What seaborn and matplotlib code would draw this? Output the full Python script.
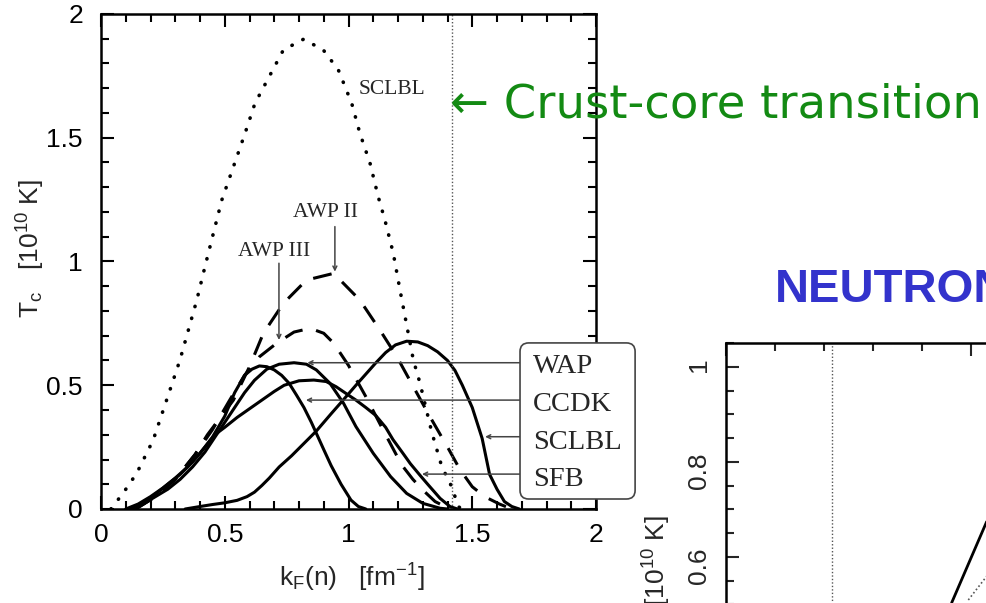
import numpy as np
import pandas as pd
import seaborn as sns
import matplotlib.pyplot as plt
from matplotlib.patches import FancyBboxPatch
from matplotlib.ticker import MultipleLocator

# Data -------------------------------------------------------------------------
# neutron 1S0 gap curves, Tc [1e10 K] vs kF(n) [fm^-1]
kf_sclbl_dot = [0.04, 0.063, 0.09, 0.144, 0.211, 0.265, 0.319, 0.387, 0.42, 0.454, 0.488,
                0.535, 0.582, 0.622, 0.669, 0.737, 0.818, 0.898, 0.959, 1.013, 1.046,
                1.087, 1.12, 1.147, 1.181, 1.208, 1.262, 1.289, 1.336, 1.377, 1.417, 1.444, 1.46]
tc_sclbl_dot = [0.0, 0.03, 0.065, 0.144, 0.279, 0.44, 0.602, 0.844, 0.979, 1.114, 1.248,
                1.383, 1.518, 1.639, 1.727, 1.855, 1.898, 1.855, 1.774, 1.639, 1.518,
                1.397, 1.262, 1.168, 1.033, 0.885, 0.602, 0.508, 0.312, 0.171, 0.09, 0.009, 0.0]

kf_awp2 = [0.14, 0.22, 0.30, 0.38, 0.43, 0.49, 0.535, 0.60, 0.656, 0.737, 0.83, 0.94,
           1.046, 1.127, 1.195, 1.262, 1.329, 1.403, 1.45, 1.50, 1.55, 1.61, 1.66]
tc_awp2 = [0.0, 0.05, 0.12, 0.22, 0.30, 0.38, 0.44, 0.575, 0.71, 0.831, 0.925, 0.952,
           0.844, 0.723, 0.616, 0.494, 0.373, 0.245, 0.16, 0.09, 0.05, 0.02, 0.0]

kf_awp3 = [0.14, 0.22, 0.30, 0.38, 0.45, 0.52, 0.58, 0.64, 0.71, 0.78, 0.845, 0.90,
           0.94, 1.00, 1.07, 1.14, 1.215, 1.26, 1.30, 1.35, 1.40, 1.42]
tc_awp3 = [0.0, 0.05, 0.12, 0.22, 0.32, 0.44, 0.54, 0.615, 0.67, 0.715, 0.73, 0.71,
           0.67, 0.58, 0.454, 0.319, 0.178, 0.12, 0.077, 0.03, 0.005, 0.0]

kf_wap = [0.12, 0.17, 0.22, 0.27, 0.32, 0.37, 0.42, 0.46, 0.50, 0.54, 0.58, 0.62, 0.67,
          0.72, 0.78, 0.83, 0.87, 0.925, 0.98, 1.03, 1.10, 1.17, 1.235, 1.30, 1.37, 1.40]
tc_wap = [0.0, 0.02, 0.05, 0.08, 0.12, 0.17, 0.23, 0.29, 0.35, 0.41, 0.47, 0.52, 0.565,
          0.585, 0.591, 0.585, 0.562, 0.508, 0.427, 0.333, 0.225, 0.131, 0.063, 0.023, 0.003, 0.0]

kf_ccdk = [0.10, 0.15, 0.20, 0.25, 0.30, 0.35, 0.40, 0.45, 0.50, 0.54, 0.58, 0.61, 0.64,
           0.67, 0.70, 0.73, 0.76, 0.79, 0.82, 0.85, 0.87, 0.90, 0.93, 0.97, 1.01, 1.04, 1.07]
tc_ccdk = [0.0, 0.02, 0.05, 0.085, 0.125, 0.17, 0.225, 0.29, 0.375, 0.47, 0.54, 0.565, 0.578,
           0.575, 0.562, 0.54, 0.508, 0.46, 0.41, 0.35, 0.306, 0.24, 0.175, 0.10, 0.036, 0.01, 0.0]

kf_sfb = [0.12, 0.17, 0.22, 0.27, 0.32, 0.37, 0.42, 0.46, 0.50, 0.55, 0.60, 0.65, 0.70, 0.74,
          0.80, 0.86, 0.91, 0.95, 1.00, 1.03, 1.07, 1.11, 1.15, 1.18, 1.22, 1.25, 1.29, 1.32,
          1.37, 1.41, 1.44]
tc_sfb = [0.0, 0.025, 0.06, 0.10, 0.14, 0.19, 0.25, 0.30, 0.33, 0.37, 0.405, 0.44, 0.475, 0.50,
          0.518, 0.521, 0.515, 0.494, 0.46, 0.44, 0.41, 0.378, 0.33, 0.28, 0.225, 0.183, 0.135,
          0.10, 0.043, 0.01, 0.0]

kf_sclbl = [0.34, 0.40, 0.45, 0.50, 0.55, 0.59, 0.62, 0.65, 0.68, 0.72, 0.77, 0.82, 0.87, 0.93,
            0.98, 1.03, 1.07, 1.11, 1.15, 1.19, 1.235, 1.28, 1.32, 1.36, 1.40, 1.43, 1.46,
            1.50, 1.54, 1.57, 1.60, 1.63, 1.66, 1.69]
tc_sclbl = [0.0, 0.01, 0.018, 0.025, 0.035, 0.05, 0.068, 0.095, 0.125, 0.17, 0.215, 0.265,
            0.315, 0.385, 0.442, 0.50, 0.545, 0.59, 0.632, 0.663, 0.678, 0.675, 0.66, 0.635,
            0.60, 0.56, 0.50, 0.41, 0.285, 0.14, 0.08, 0.03, 0.01, 0.0]

kf_crust_core = 1.417

# legend box labels and where their arrows point (kF, Tc)
box_labels = ["WAP", "CCDK", "SCLBL", "SFB"]
arrow_tips_kf = [0.834, 0.828, 1.552, 1.297]
arrow_tips_tc = [0.591, 0.44, 0.292, 0.141]

ticks = [0, 0.5, 1, 1.5, 2]
tick_labels = ["0", "0.5", "1", "1.5", "2"]

# second (cut off) panel
x2_solid = [0.921, 1.064]
t2_solid = [0.503, 0.674]
x2_dot = [0.989, 1.064]
t2_dot = [0.509, 0.559]
x2_transition = 0.433
y2_ticks = [0.6, 0.8, 1]
y2_tick_labels = ["0.6", "0.8", "1"]

# Style ------------------------------------------------------------------------
sns.set_style("ticks")
plt.rcParams['font.family'] = ['Liberation Sans', 'DejaVu Sans']
plt.rcParams['mathtext.default'] = 'regular'

fig = plt.figure(figsize=(9.86, 6.03), dpi=100)
ax = fig.add_axes([101/986, 94/603, 495/986, 495/603])

# Curves -----------------------------------------------------------------------
sns.lineplot(x=kf_sclbl_dot, y=tc_sclbl_dot, ax=ax, color="black", lw=2.6,
             linestyle=(0, (0.1, 3.3)), dash_capstyle="round", errorbar=None)
for kf, tc in [(kf_awp2, tc_awp2), (kf_awp3, tc_awp3)]:
    sns.lineplot(x=kf, y=tc, ax=ax, color="black", lw=2.2,
                 linestyle=(0, (6.2, 4.6)), errorbar=None)
for kf, tc in [(kf_wap, tc_wap), (kf_ccdk, tc_ccdk), (kf_sfb, tc_sfb), (kf_sclbl, tc_sclbl)]:
    sns.lineplot(x=kf, y=tc, ax=ax, color="black", lw=2.2, errorbar=None)

ax.axvline(kf_crust_core, color="#555555", lw=1, linestyle=(0, (1, 1.5)))

ax.set_xlim(0, 2)
ax.set_ylim(0, 2)
ax.set_xticks(ticks, labels=tick_labels)
ax.set_yticks(ticks, labels=tick_labels)
ax.xaxis.set_minor_locator(MultipleLocator(0.1))
ax.yaxis.set_minor_locator(MultipleLocator(0.1))
ax.tick_params(which="both", direction="in", top=True, right=True, colors="black")
ax.tick_params(which="major", length=9.5, width=1.5, labelsize=19)
ax.tick_params(which="minor", length=5.5, width=1.5)
ax.tick_params(axis="x", pad=10)
ax.tick_params(axis="y", pad=13)
for s in ax.spines.values():
    s.set_linewidth(1.8)
    s.set_color("black")

ax.set_xlabel(r"k$_F$(n)   [fm$^{-1}$]", fontsize=19)
ax.set_ylabel(r"T$_c$   [10$^{10}$ K]", fontsize=19)
ax.xaxis.set_label_coords(0.507, -0.107)
ax.yaxis.set_label_coords(-0.109, 0.527)

# Labels and arrows ------------------------------------------------------------
serif = ["Liberation Serif", "DejaVu Serif"]
ax.text(1.042, 1.693, "SCLBL", family=serif, fontsize=15.5, va="center", ha="left")
ax.text(0.908, 1.196, "AWP II", family=serif, fontsize=15.5, va="center", ha="center")
ax.text(0.699, 1.04, "AWP III", family=serif, fontsize=15.5, va="center", ha="center")
arr = dict(arrowstyle="->", color="#444444", lw=1.1, shrinkA=0, shrinkB=0, mutation_scale=7)
ax.annotate("", xy=(0.945, 0.959), xytext=(0.945, 1.141), arrowprops=arr)
ax.annotate("", xy=(0.719, 0.683), xytext=(0.719, 0.993), arrowprops=arr)

box = FancyBboxPatch((1.693, 0.0404), 0.465, 0.6306, boxstyle="round,pad=0,rounding_size=0.035",
                     facecolor="white", edgecolor="#444444", lw=1.2, clip_on=False, zorder=5)
ax.add_patch(box)
for i, lab in enumerate(box_labels):
    ax.text(1.745, 0.574 - i * 0.152, lab, family=serif, fontsize=20.5,
            va="center", ha="left", zorder=6, clip_on=False)
    ax.annotate("", xy=(arrow_tips_kf[i], arrow_tips_tc[i]), xytext=(1.693, arrow_tips_tc[i]),
                arrowprops=arr)

# Slide texts ------------------------------------------------------------------
fig.text(450/986, (603-118)/603, "\u2190 Crust-core transition", color="#138a13",
         fontsize=33.5, family=["DejaVu Sans"], ha="left", va="baseline", zorder=10)
fig.text(775/986, (603-290)/603, "NEUTRON", color="#3333cc", fontsize=34,
         fontweight="bold", ha="left", va="center")

# Second panel (cut off) -------------------------------------------------------
ax2 = fig.add_axes([726/986, (603-343-498.75)/603, 490/986, 498.75/603])
sns.lineplot(x=x2_solid, y=t2_solid, ax=ax2, color="black", lw=2.0, errorbar=None)
sns.lineplot(x=x2_dot, y=t2_dot, ax=ax2, color="#555555", lw=1.2,
             linestyle=(0, (1, 1.5)), errorbar=None)
ax2.axvline(x2_transition, color="#555555", lw=1, linestyle=(0, (1, 1.5)))
ax2.set_xlim(0, 2)
ax2.set_ylim(0, 1.05)
ax2.set_xticks([0, 1, 2], labels=["", "", ""])
ax2.xaxis.set_minor_locator(MultipleLocator(0.2))
ax2.set_yticks(y2_ticks, labels=y2_tick_labels)
ax2.yaxis.set_minor_locator(MultipleLocator(0.05))
ax2.tick_params(which="both", direction="in", top=True, right=True)
ax2.tick_params(which="major", length=9, width=1.5, labelsize=19)
ax2.tick_params(which="minor", length=5.5, width=1.5)
ax2.tick_params(axis="y", labelrotation=90, pad=11)
for s in ax2.spines.values():
    s.set_linewidth(1.8)
    s.set_color("black")
fig.text(657/986, (603-515)/603, r"T$_c$   [10$^{10}$ K]", rotation=90, fontsize=19,
         ha="center", va="top")

fig.savefig("out.png", dpi=100)
